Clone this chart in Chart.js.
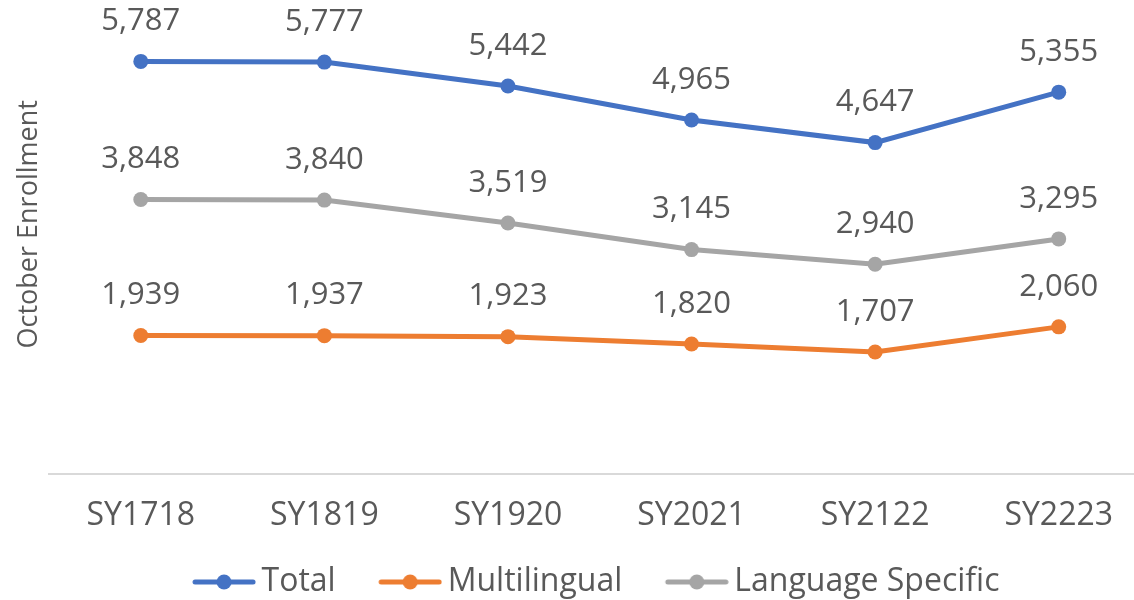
<!DOCTYPE html>
<html>
<head>
<meta charset="utf-8">
<script src="https://cdn.jsdelivr.net/npm/chart.js@4.4.1/dist/chart.umd.min.js"></script>
<style>
  html, body { margin: 0; padding: 0; background: #fff; overflow: hidden; width: 1134px; height: 600px; }
  /* the original picture is a crop of a larger chart: top and right edges are cut */
  #wrap { position: absolute; left: 0; top: -71px; width: 1158px; height: 679px; }
</style>
</head>
<body>
<div id="wrap"><canvas id="enrollChart" width="1158" height="679"></canvas></div>
<script>
// === DATA ===
const categories = ['SY1718', 'SY1819', 'SY1920', 'SY2021', 'SY2122', 'SY2223'];
const totalValues = [5787, 5777, 5442, 4965, 4647, 5355];
const multilingualValues = [1939, 1937, 1923, 1820, 1707, 2060];
const langSpecificValues = [3848, 3840, 3519, 3145, 2940, 3295];
const yMin = 0;
const yMax = 7000;

const FONT = '"Open Sans", "Noto Sans", sans-serif';
const TEXT = '#595959';

// legend marker: short line with a dot, drawn at the right end of a wider image
// so the gap to the previous legend entry comes out like the Excel legend
function legendMarker(color) {
  const c = document.createElement('canvas');
  c.width = 109; c.height = 16;
  const g = c.getContext('2d');
  const x0 = c.width - 64;
  g.strokeStyle = color;
  g.lineWidth = 5;
  g.lineCap = 'round';
  g.beginPath(); g.moveTo(x0 + 3, 8); g.lineTo(x0 + 61, 8); g.stroke();
  g.fillStyle = color;
  g.beginPath(); g.arc(x0 + 32, 8, 7.5, 0, Math.PI * 2); g.fill();
  return c;
}

// === DATA LABELS (simple inline plugin) ===
const valueLabels = {
  id: 'valueLabels',
  afterDatasetsDraw(chart) {
    const ctx = chart.ctx;
    ctx.save();
    ctx.font = '31px ' + FONT;
    ctx.fillStyle = TEXT;
    ctx.textAlign = 'center';
    ctx.textBaseline = 'middle';
    chart.data.datasets.forEach((ds, i) => {
      chart.getDatasetMeta(i).data.forEach((pt, j) => {
        ctx.fillText(ds.data[j].toLocaleString('en-US'), pt.x, pt.y - 40);
      });
    });
    ctx.restore();
  }
};

function series(label, data, color) {
  return {
    label, data,
    borderColor: color,
    backgroundColor: color,
    borderWidth: 5,
    pointRadius: 7.5,
    pointBackgroundColor: color,
    pointBorderWidth: 0,
    tension: 0,
    marker: legendMarker(color)
  };
}

new Chart(document.getElementById('enrollChart'), {
  type: 'line',
  data: {
    labels: categories,
    datasets: [
      series('Total', totalValues, '#4472C4'),
      series('Multilingual', multilingualValues, '#ED7D31'),
      series('Language Specific', langSpecificValues, '#A5A5A5')
    ]
  },
  plugins: [valueLabels],
  options: {
    responsive: false,
    animation: false,
    layout: { padding: { top: 46, left: 0, right: 1, bottom: 0 } },
    plugins: {
      tooltip: { enabled: false },
      legend: {
        position: 'bottom',
        labels: {
          usePointStyle: true,
          pointStyleWidth: 88,
          padding: 8,
          color: TEXT,
          font: { family: FONT, size: 32 },
          generateLabels(chart) {
            return Chart.defaults.plugins.legend.labels.generateLabels(chart).map(item => {
              item.pointStyle = chart.data.datasets[item.datasetIndex].marker;
              return item;
            });
          }
        }
      }
    },
    scales: {
      x: {
        offset: true,
        grid: { display: false, drawTicks: false },
        border: { display: true, color: '#D9D9D9', width: 2 },
        ticks: { color: TEXT, padding: 23, font: { family: FONT, size: 32 } }
      },
      y: {
        min: yMin,
        max: yMax,
        grid: { display: false, drawTicks: false },
        border: { display: false },
        ticks: { display: false },
        title: {
          display: true,
          text: 'October Enrollment',
          color: TEXT,
          padding: { top: 13, bottom: 0 },
          font: { family: FONT, size: 27 }
        },
        afterFit(scale) { scale.width = 49; }
      }
    }
  }
});
</script>
</body>
</html>
